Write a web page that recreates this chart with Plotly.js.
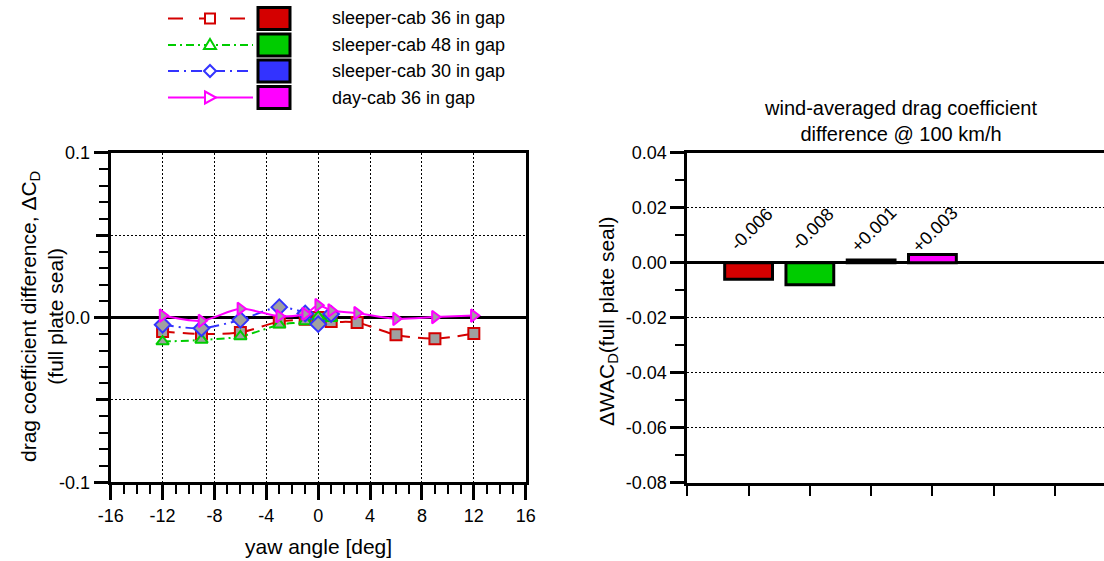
<!DOCTYPE html>
<html>
<head>
<meta charset="utf-8">
<script src="https://cdn.plot.ly/plotly-3.0.1.min.js"></script>
<style>html,body{margin:0;padding:0;background:#fff;}#chart{width:1104px;height:561px;}</style>
</head>
<body>
<div id="chart"></div>
<script>
// ---------------- data ----------------
const yawAll = [-12, -9, -6, -3, -1, 0, 1, 3, 6, 9, 12];
const yawShort = [-12, -9, -6, -3, -1, 0, 1];

const seriesNames = ['sleeper-cab 36 in gap', 'sleeper-cab 48 in gap', 'sleeper-cab 30 in gap', 'day-cab 36 in gap'];
const seriesColors = ['#d40000', '#00cc00', '#3333ff', '#ff00ff'];

const sleeper36 = [-0.0085, -0.0100, -0.0090, -0.0025, -0.0010, 0.0000, -0.0024, -0.0030, -0.0105, -0.0128, -0.0097];
const sleeper48 = [-0.0146, -0.0136, -0.0115, -0.0044, -0.0024, 0.0005, -0.0005];
const sleeper30 = [-0.0044, -0.0065, -0.0014, 0.0063, 0.0025, -0.0040, 0.0022];
const daycab36 = [0.0012, -0.0020, 0.0053, 0.0008, 0.0022, 0.0075, 0.0043, 0.0027, -0.0008, 0.0003, 0.0012];

const barCats = [1, 2, 3, 4];
const barVals = [-0.006, -0.008, 0.001, 0.003];
const barLabels = ['-0.006', '-0.008', '+0.001', '+0.003'];

const xTickVals = [-16, -12, -8, -4, 0, 4, 8, 12, 16];
const xTickText = ['-16', '-12', '-8', '-4', '0', '4', '8', '12', '16'];
const yTickVals = [-0.1, 0, 0.1];
const yTickText = ['-0.1', '0.0', '0.1'];
const yHalfTickVals = [-0.05, 0.05];
const y2TickVals = [-0.08, -0.06, -0.04, -0.02, 0, 0.02, 0.04];
const y2TickText = ['-0.08', '-0.06', '-0.04', '-0.02', '0.00', '0.02', '0.04'];
const x2TickVals = [0, 1, 2, 3, 4, 5, 6];

// ---------------- helpers ----------------
const W = 1104, H = 561;
const X = p => p / W;
const Y = p => 1 - p / H;
const FONT = 'Liberation Sans, Arial, Helvetica, sans-serif';

const dashes = ['12px,8px', '8px,4px,2px,4px', '11px,5px,2px,5px', 'solid'];
const symbols = ['square', 'triangle-up', 'diamond', 'triangle-right'];
const ySeries = [sleeper36, sleeper48, sleeper30, daycab36];
const xSeries = [yawAll, yawShort, yawShort, yawAll];

// empty helper trace so the overlay axis (half-step grid at +/-0.05) is drawn
const traces = [{type: 'scatter', mode: 'markers', x: [], y: [], xaxis: 'x', yaxis: 'y3', showlegend: false, hoverinfo: 'skip'}];

ySeries.forEach((ys, i) => traces.push({
  type: 'scatter', mode: 'lines+markers',
  x: xSeries[i], y: ys, name: seriesNames[i], showlegend: false,
  xaxis: 'x', yaxis: 'y',
  line: {color: seriesColors[i], width: 2, dash: dashes[i], shape: 'spline', smoothing: 0.8},
  marker: {symbol: symbols[i], size: symbols[i] === 'diamond' ? 12 : 11, color: '#a0a0a0',
           line: {color: seriesColors[i], width: 2}}
}));

traces.push({
  type: 'bar', x: barCats, y: barVals, xaxis: 'x2', yaxis: 'y2', showlegend: false,
  width: 0.78,
  marker: {color: seriesColors, line: {color: '#000', width: 3}}
});

// ---------------- legend (drawn manually) ----------------
const shapes = [];
const annotations = [];
const rowY = [18.5, 45, 71, 97.5];
rowY.forEach((ry, i) => {
  const c = seriesColors[i];
  shapes.push({type: 'line', xref: 'paper', yref: 'paper', x0: X(168), x1: X(253), y0: Y(ry), y1: Y(ry),
               line: {color: c, width: 2, dash: i === 0 ? '15px,16px' : dashes[i]}});
  const mx = 210, s = 5;
  let path;
  if (i === 0) path = `M${X(mx-s)},${Y(ry-s)} L${X(mx+s)},${Y(ry-s)} L${X(mx+s)},${Y(ry+s)} L${X(mx-s)},${Y(ry+s)} Z`;
  else if (i === 1) path = `M${X(mx)},${Y(ry-6)} L${X(mx+6)},${Y(ry+4)} L${X(mx-6)},${Y(ry+4)} Z`;
  else if (i === 2) path = `M${X(mx)},${Y(ry-6)} L${X(mx+6)},${Y(ry)} L${X(mx)},${Y(ry+6)} L${X(mx-6)},${Y(ry)} Z`;
  else path = `M${X(mx-5)},${Y(ry-6)} L${X(mx+6)},${Y(ry)} L${X(mx-5)},${Y(ry+6)} Z`;
  shapes.push({type: 'path', xref: 'paper', yref: 'paper', path: path, fillcolor: '#fff', line: {color: c, width: 2}});
  shapes.push({type: 'rect', xref: 'paper', yref: 'paper', x0: X(258), x1: X(290), y0: Y(ry - 11), y1: Y(ry + 11),
               fillcolor: c, line: {color: '#000', width: 3}});
  annotations.push({xref: 'paper', yref: 'paper', x: X(330), y: Y(ry), xanchor: 'left', yanchor: 'middle',
                    text: seriesNames[i], showarrow: false, font: {size: 18, color: '#000', family: FONT}});
});

// bar value labels
barCats.forEach((c, i) => {
  annotations.push({xref: 'x2', yref: 'y2', x: c + 0.05, y: 0.0122, xanchor: 'center', yanchor: 'middle',
                    text: barLabels[i], textangle: -45,
                    showarrow: false, font: {size: 18, color: '#000', family: FONT}});
});

// titles
annotations.push({xref: 'paper', yref: 'paper', x: X(900), y: Y(121), xanchor: 'center', yanchor: 'middle',
                  text: 'wind-averaged drag coefficient<br>difference @ 100 km/h',
                  showarrow: false, font: {size: 20, color: '#000', family: FONT}});
annotations.push({xref: 'paper', yref: 'paper', x: X(42), y: Y(317), xanchor: 'center', yanchor: 'middle', textangle: -90,
                  text: 'drag coefficient difference, ΔC<sub>D</sub><br>(full plate seal)',
                  showarrow: false, font: {size: 21, color: '#000', family: FONT}});
annotations.push({xref: 'paper', yref: 'paper', x: X(318), y: Y(546), xanchor: 'center', yanchor: 'middle',
                  text: 'yaw angle [deg]',
                  showarrow: false, font: {size: 21, color: '#000', family: FONT}});
annotations.push({xref: 'paper', yref: 'paper', x: X(608), y: Y(322), xanchor: 'center', yanchor: 'middle', textangle: -90,
                  text: 'ΔWAC<sub>D</sub>(full plate seal)',
                  showarrow: false, font: {size: 21, color: '#000', family: FONT}});

const axCommon = {showline: true, linecolor: '#000', linewidth: 3, tickcolor: '#000',
                  tickfont: {size: 18, color: '#000', family: FONT}, gridcolor: '#000', gridwidth: 1,
                  griddash: '2px,2px', fixedrange: true};

const yDomain = [Y(482.4), Y(152.7)];

const layout = {
  width: W, height: H,
  margin: {l: 0, r: 0, t: 0, b: 0},
  paper_bgcolor: '#fff', plot_bgcolor: '#fff',
  font: {family: FONT, color: '#000'},
  showlegend: false,
  xaxis: Object.assign({}, axCommon, {
    domain: [X(110.7), X(525.7)], range: [-16, 16], anchor: 'y',
    tickmode: 'array', tickvals: xTickVals, ticktext: xTickText,
    ticks: 'outside', ticklen: 15, tickwidth: 3,
    minor: {tick0: 0, dtick: 1, ticks: 'outside', ticklen: 9, tickwidth: 2, tickcolor: '#000', showgrid: false},
    showgrid: true, zeroline: false, mirror: true
  }),
  yaxis: Object.assign({}, axCommon, {
    domain: yDomain, range: [-0.1, 0.1], anchor: 'x',
    tickmode: 'array', tickvals: yTickVals, ticktext: yTickText,
    ticks: 'outside', ticklen: 14, tickwidth: 3,
    minor: {tick0: 0, dtick: 0.01, ticks: 'outside', ticklen: 9, tickwidth: 2, tickcolor: '#000', showgrid: false},
    showgrid: false, zeroline: true, zerolinecolor: '#000', zerolinewidth: 3, mirror: true
  }),
  yaxis3: Object.assign({}, axCommon, {
    domain: yDomain, range: [-0.1, 0.1], anchor: 'x', overlaying: 'y', side: 'left',
    tickmode: 'array', tickvals: yHalfTickVals, showticklabels: false,
    ticks: 'outside', ticklen: 14, tickwidth: 3,
    showgrid: true, zeroline: false, showline: false
  }),
  xaxis2: Object.assign({}, axCommon, {
    domain: [X(687.3), 1], range: [0, 6.8], anchor: 'y2',
    tickmode: 'array', tickvals: x2TickVals, showticklabels: false,
    ticks: 'outside', ticklen: 10, tickwidth: 2,
    showgrid: false, zeroline: false, mirror: true
  }),
  yaxis2: Object.assign({}, axCommon, {
    domain: [Y(482.7), Y(152.7)], range: [-0.08, 0.04], anchor: 'x2',
    tickmode: 'array', tickvals: y2TickVals, ticktext: y2TickText,
    ticks: 'outside', ticklen: 14, tickwidth: 3,
    minor: {tick0: 0, dtick: 0.01, ticks: 'outside', ticklen: 9, tickwidth: 2, tickcolor: '#000', showgrid: false},
    showgrid: true, zeroline: true, zerolinecolor: '#000', zerolinewidth: 3, mirror: false
  }),
  shapes: shapes,
  annotations: annotations,
  bargap: 0.2
};

Plotly.newPlot('chart', traces, layout, {displayModeBar: false, staticPlot: true});
</script>
</body>
</html>
